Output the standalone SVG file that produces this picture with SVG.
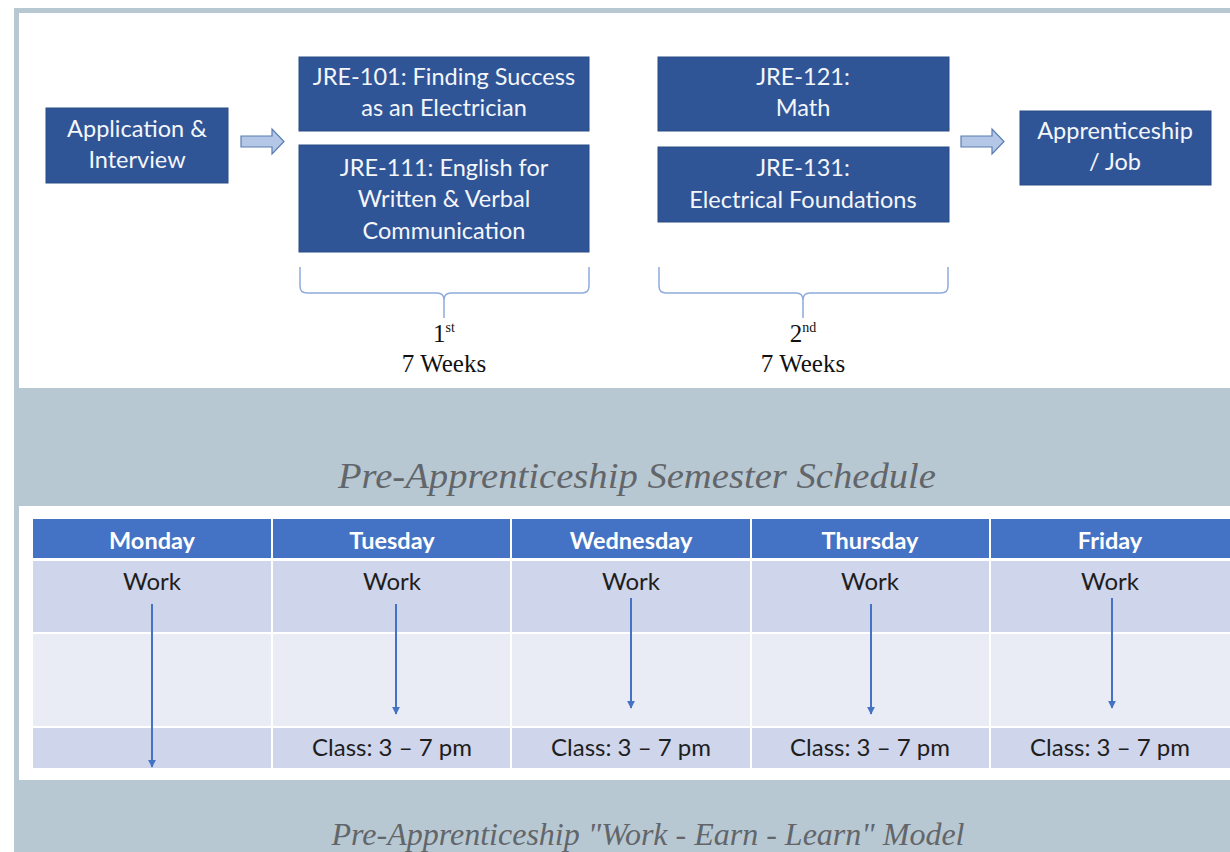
<svg xmlns="http://www.w3.org/2000/svg" width="1230" height="852" viewBox="0 0 1230 852">
<defs>
<style>
.box{fill:#2F5597;stroke:#2A4C86;stroke-width:1}
.bt{font-family:Lato,"Open Sans","Liberation Sans",sans-serif;font-size:23.5px;fill:#F4F6FA;text-anchor:middle}
.blk{fill:#B4C7E7;stroke:#5B7DB1;stroke-width:1.2}
.brace{fill:none;stroke:#8FAADC;stroke-width:1.5}
.wk{font-family:"Liberation Serif","Times New Roman",serif;font-size:25px;fill:#111;text-anchor:middle}
.ttl{font-family:"Liberation Serif","DejaVu Serif",serif;font-style:italic;fill:#62666A;text-anchor:middle}
.hd{fill:#4472C4}
.r1{fill:#CFD5EA}
.r2{fill:#E9EBF5}
.ht{font-family:Lato,"Open Sans","Liberation Sans",sans-serif;font-size:23.5px;font-weight:bold;fill:#FFFFFF;text-anchor:middle}
.ct{font-family:Lato,"Open Sans","Liberation Sans",sans-serif;font-size:24px;fill:#1E1E1E;text-anchor:middle}
.arr{stroke:#4472C4;stroke-width:2;fill:none;marker-end:url(#ah)}
</style>
<marker id="ah" viewBox="0 0 10 10" refX="9" refY="5" markerWidth="4" markerHeight="4" orient="auto">
<path d="M0,0 L10,5 L0,10 z" fill="#4472C4"/>
</marker>
</defs>
<rect x="0" y="0" width="1230" height="852" fill="#FFFFFF"/>
<rect x="14" y="8" width="1216" height="844" fill="#B8C8D2"/>
<rect x="19" y="13" width="1211" height="375" fill="#FFFFFF"/>
<rect x="19" y="506" width="1211" height="274" fill="#FFFFFF"/>

<g id="node-application">
<rect class="box" x="46" y="108" width="182" height="75"/>
<text class="bt" x="137" y="137">Application &amp;</text>
<text class="bt" x="137" y="168">Interview</text>
</g>
<g id="node-jre101">
<rect class="box" x="299" y="57" width="290" height="74"/>
<text class="bt" x="444" y="85">JRE-101: Finding Success</text>
<text class="bt" x="444" y="116">as an Electrician</text>
</g>
<g id="node-jre111">
<rect class="box" x="299" y="145" width="290" height="107"/>
<text class="bt" x="444" y="176">JRE-111: English for</text>
<text class="bt" x="444" y="207">Written &amp; Verbal</text>
<text class="bt" x="444" y="239">Communication</text>
</g>
<g id="node-jre121">
<rect class="box" x="658" y="57" width="291" height="74"/>
<text class="bt" x="803" y="85">JRE-121:</text>
<text class="bt" x="803" y="116">Math</text>
</g>
<g id="node-jre131">
<rect class="box" x="658" y="147" width="291" height="75"/>
<text class="bt" x="803" y="176">JRE-131:</text>
<text class="bt" x="803" y="208">Electrical Foundations</text>
</g>
<g id="node-apprenticeship">
<rect class="box" x="1020" y="111" width="191" height="74"/>
<text class="bt" x="1115" y="139">Apprenticeship</text>
<text class="bt" x="1115" y="170">/ Job</text>
</g>

<g id="connectors">
<path class="blk" d="M241,136 H272 V129 L284,141.5 L272,154 V147 H241 Z"/>
<path class="blk" d="M961,136 H992 V129 L1004,141.5 L992,154 V147 H961 Z"/>
</g>

<g id="brace-1">
<path class="brace" d="M300,267 V286 Q300,293 307,293 H437 Q444,293 444,300 V318 M444,300 Q444,293 451,293 H582 Q589,293 589,286 V267"/>
<text class="wk" x="444" y="342">1<tspan font-size="14" dy="-10">st</tspan></text>
<text class="wk" x="444" y="372">7 Weeks</text>
</g>
<g id="brace-2">
<path class="brace" d="M659,267 V286 Q659,293 666,293 H796 Q803,293 803,300 V318 M803,300 Q803,293 810,293 H941 Q948,293 948,286 V267"/>
<text class="wk" x="803" y="342">2<tspan font-size="14" dy="-10">nd</tspan></text>
<text class="wk" x="803" y="372">7 Weeks</text>
</g>

<text class="ttl" x="637" y="488" font-size="35" textLength="598" lengthAdjust="spacingAndGlyphs">Pre-Apprenticeship Semester Schedule</text>

<g id="table">
<rect class="hd" x="33" y="519" width="1197" height="39"/>
<rect class="r1" x="33" y="561" width="1197" height="71"/>
<rect class="r2" x="33" y="634" width="1197" height="92"/>
<rect class="r1" x="33" y="728" width="1197" height="40"/>
<g stroke="#FFFFFF" stroke-width="2">
<line x1="272" y1="519" x2="272" y2="768"/>
<line x1="511" y1="519" x2="511" y2="768"/>
<line x1="751" y1="519" x2="751" y2="768"/>
<line x1="990" y1="519" x2="990" y2="768"/>
</g>
<text class="ht" x="152" y="549">Monday</text>
<text class="ht" x="392" y="549">Tuesday</text>
<text class="ht" x="631" y="549">Wednesday</text>
<text class="ht" x="870" y="549">Thursday</text>
<text class="ht" x="1110" y="549">Friday</text>
<text class="ct" x="152" y="590">Work</text>
<text class="ct" x="392" y="590">Work</text>
<text class="ct" x="631" y="590">Work</text>
<text class="ct" x="870" y="590">Work</text>
<text class="ct" x="1110" y="590">Work</text>
<text class="ct" x="392" y="756">Class: 3 – 7 pm</text>
<text class="ct" x="631" y="756">Class: 3 – 7 pm</text>
<text class="ct" x="870" y="756">Class: 3 – 7 pm</text>
<text class="ct" x="1110" y="756">Class: 3 – 7 pm</text>
</g>
<g id="table-arrows">
<line class="arr" x1="152" y1="604" x2="152" y2="767"/>
<line class="arr" x1="396" y1="604" x2="396" y2="714"/>
<line class="arr" x1="631" y1="598" x2="631" y2="708"/>
<line class="arr" x1="871" y1="604" x2="871" y2="714"/>
<line class="arr" x1="1112" y1="598" x2="1112" y2="708"/>
</g>

<text class="ttl" x="648" y="845" font-size="31" textLength="633" lengthAdjust="spacingAndGlyphs">Pre-Apprenticeship "Work - Earn - Learn" Model</text>
</svg>
